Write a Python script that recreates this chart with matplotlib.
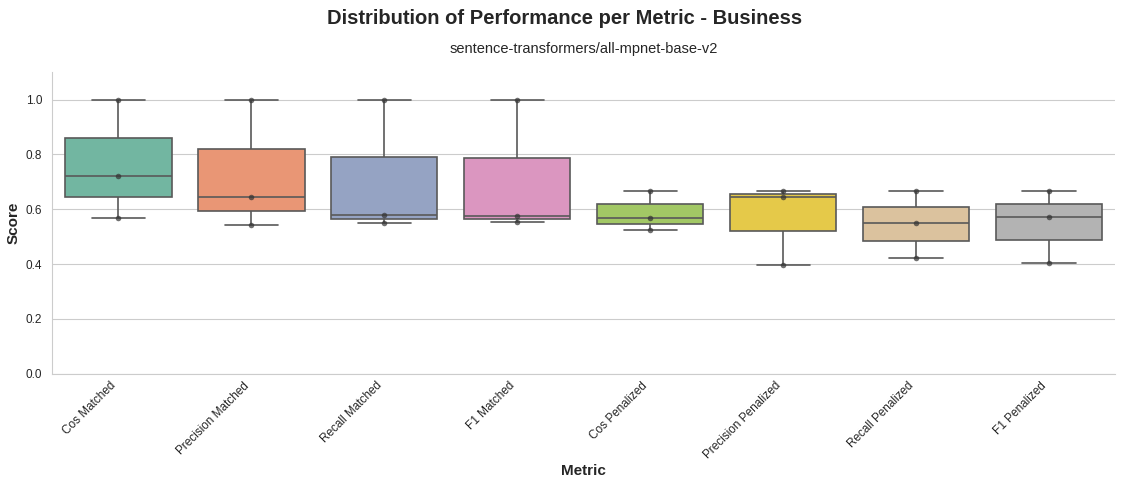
import numpy as np
import pandas as pd
import matplotlib
matplotlib.use("Agg")
import matplotlib.pyplot as plt
import seaborn as sns

metrics = ["Cos Matched", "Precision Matched", "Recall Matched", "F1 Matched",
           "Cos Penalized", "Precision Penalized", "Recall Penalized", "F1 Penalized"]
cos_matched = [1.0, 0.720, 0.569]
precision_matched = [1.0, 0.643, 0.542]
recall_matched = [1.0, 0.578, 0.548]
f1_matched = [1.0, 0.574, 0.554]
cos_penalized = [0.667, 0.569, 0.524]
precision_penalized = [0.667, 0.643, 0.395]
recall_penalized = [0.667, 0.548, 0.421]
f1_penalized = [0.667, 0.572, 0.402]

series = [cos_matched, precision_matched, recall_matched, f1_matched,
          cos_penalized, precision_penalized, recall_penalized, f1_penalized]
df = pd.DataFrame({
    "Metric": np.repeat(metrics, [len(s) for s in series]),
    "Score": np.concatenate(series),
})

sns.set_style("whitegrid")
plt.rcParams["font.family"] = ["Liberation Sans", "DejaVu Sans"]

fig, ax = plt.subplots(figsize=(11.29, 4.82), dpi=100)
sns.boxplot(data=df, x="Metric", y="Score", hue="Metric", palette="Set2",
            legend=False, width=0.8, linewidth=1.2, linecolor="0.35", ax=ax)
sns.stripplot(data=df, x="Metric", y="Score", color="0.2", alpha=0.7,
              size=4, jitter=False, ax=ax)

ax.set_ylim(0, 1.1)
ax.set_yticks([0, 0.2, 0.4, 0.6, 0.8, 1.0])
ax.tick_params(axis="both", labelsize=8.5, colors="0.15")
ax.tick_params(axis="x", pad=1)
plt.setp(ax.get_xticklabels(), rotation=45, ha="right")
ax.set_xlabel("Metric", fontsize=11, fontweight="bold", labelpad=2)
ax.set_ylabel("Score", fontsize=11, fontweight="bold")
ax.set_title("sentence-transformers/all-mpnet-base-v2", fontsize=10.5, pad=14)
fig.suptitle("Distribution of Performance per Metric - Business",
             fontsize=14.5, fontweight="bold", y=0.982)
sns.despine(ax=ax)
for side in ["left", "bottom"]:
    ax.spines[side].set_color("0.8")

fig.subplots_adjust(left=0.046, right=0.988, top=0.85, bottom=0.225)
fig.savefig("out.png", dpi=100)
